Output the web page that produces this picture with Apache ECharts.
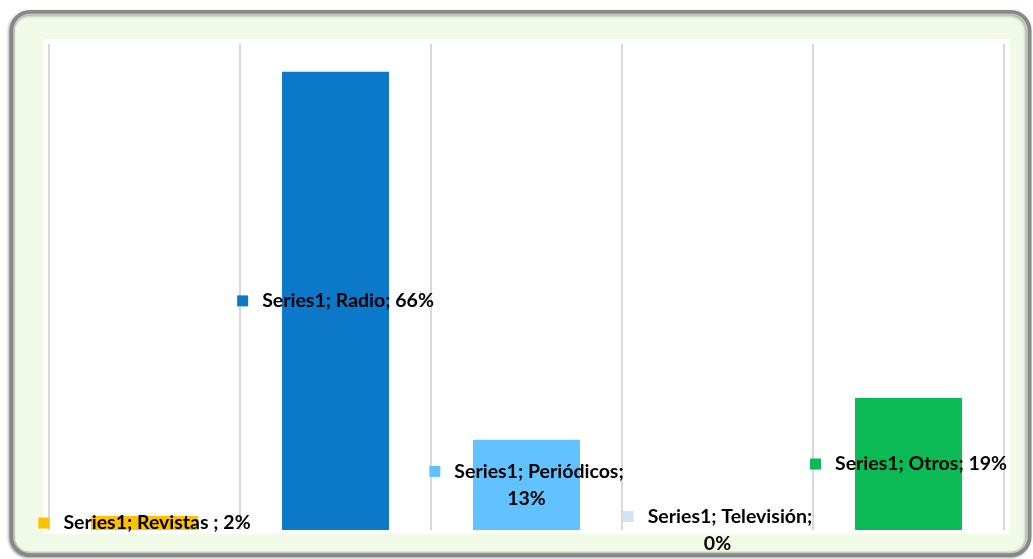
<!DOCTYPE html>
<html>
<head>
<meta charset="utf-8">
<script src="https://cdn.jsdelivr.net/npm/echarts@6/dist/echarts.min.js"></script>
<style>
  html, body { margin: 0; padding: 0; background: #ffffff; }
  #chart { width: 1033px; height: 559px; }
</style>
</head>
<body>
<div id="chart"></div>
<script>
// Media categories and their shares (%)
const seriesName = 'Series1';
const categories = ['Revistas ', 'Radio', 'Periódicos', 'Televisión', 'Otros'];
const values = [2, 66, 13, 0, 19];
const barColors = ['#FFC000', '#0B78C9', '#62C1FF', '#CCE6F7', '#0CBA55'];
// Labels that run onto a second line before the value
const wrappedLabels = ['Periódicos', 'Televisión'];

const chart = echarts.init(document.getElementById('chart'), null, { renderer: 'canvas' });

const FONT = 'Lato, "Open Sans", sans-serif';

const option = {
  animation: false,
  backgroundColor: '#ffffff',
  graphic: [
    // outer rounded frame
    {
      type: 'rect', z: -10, silent: true,
      shape: { x: 12, y: 12.5, width: 1017, height: 542, r: 18 },
      style: {
        fill: '#F0FAE6', stroke: '#888888', lineWidth: 5,
        shadowBlur: 3, shadowColor: 'rgba(0,0,0,0.35)', shadowOffsetX: -1, shadowOffsetY: 1
      }
    },
    {
      type: 'rect', z: -9, silent: true,
      shape: { x: 14, y: 14.5, width: 1013, height: 538, r: 16 },
      style: { fill: 'none', stroke: '#C4CDBB', lineWidth: 1.5 }
    },
    // white plot panel
    {
      type: 'rect', z: -8, silent: true,
      shape: { x: 43, y: 39, width: 967, height: 495 },
      style: { fill: '#ffffff' }
    }
  ],
  grid: { left: 49, right: 29, top: 44, bottom: 29, containLabel: false },
  xAxis: {
    type: 'category',
    data: categories,
    axisLine: { show: false },
    axisTick: { show: false },
    axisLabel: { show: false },
    splitLine: { show: true, lineStyle: { color: '#D9D9D9', width: 2 } }
  },
  yAxis: {
    type: 'value', min: 0, max: 70,
    show: false,
    splitLine: { show: false }
  },
  series: [{
    name: seriesName,
    type: 'bar',
    barWidth: '56%',
    data: values.map((v, i) => ({ value: v, itemStyle: { color: barColors[i] } })),
    label: {
      show: true,
      position: 'inside',
      color: '#000',
      formatter: (p) => {
        const name = p.name;
        if (wrappedLabels.includes(name)) {
          return `{m${p.dataIndex}|}{s|}{t|${seriesName}; ${name};}\n{t|${p.value}%}`;
        }
        return `{m${p.dataIndex}|}{s|}{t|${seriesName}; ${name}; ${p.value}%}`;
      },
      rich: Object.assign({
        s: { width: 14 },
        t: { fontFamily: FONT, fontWeight: 'bold', fontSize: 19.5, lineHeight: 27, color: '#000' }
      }, Object.fromEntries(barColors.map((c, i) => [
        'm' + i, { width: 11, height: 11, backgroundColor: c }
      ])))
    }
  }]
};

chart.setOption(option);
</script>
</body>
</html>
